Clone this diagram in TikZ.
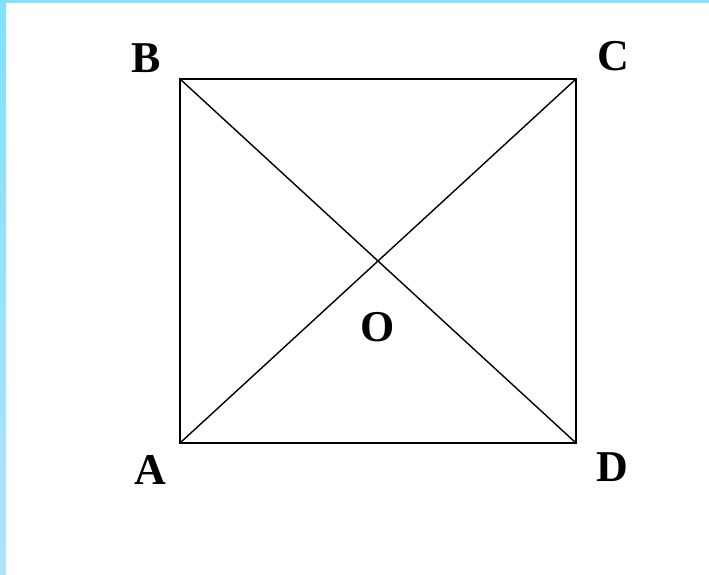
\documentclass[tikz,border=0pt]{standalone}
\usepackage{fontspec}
\setmainfont{Liberation Serif}
\usepackage{tikz}
\usetikzlibrary{positioning,calc}
\definecolor{figcyan}{RGB}{128,226,252}
\definecolor{figsky}{RGB}{178,226,250}
\tikzset{
  fside/.style={draw=black,line width=2.1pt,line join=miter},
  fdiag/.style={draw=black,line width=1.4pt},
  fvert/.style={font=\fontsize{44}{50}\selectfont\bfseries,inner sep=0pt},
}
\begin{document}
\begin{tikzpicture}[x=1pt,y=-1pt]
    \useasboundingbox (0,0) rectangle (709,575);
    \fill[white] (0,0) rectangle (709,575);
    % frame bands
    \shade[top color=figcyan,bottom color=figsky] (0,0) rectangle (6,575);
    \fill[figcyan] (0,0) rectangle (709,3.5);
    % square and diagonals
    \coordinate (A) at (180,443);
    \coordinate (B) at (180,79);
    \coordinate (C) at (576,79);
    \coordinate (D) at (576,443);
    \coordinate (O) at ($(A)!0.5!(C)$);
    \draw[fdiag] (A) -- (C);
    \draw[fdiag] (B) -- (D);
    \draw[fside] (A) -- (B) -- (C) -- (D) -- cycle;
    % vertex labels
    \node[fvert] (labB) at (146,58) {B};
    \node[fvert] (labC) at (613,56) {C};
    \node[fvert] (labA) at (150,470) {A};
    \node[fvert] (labD) at (612,467) {D};
    \node[fvert] (labO) at (378,327) {O};
\end{tikzpicture}
\end{document}
